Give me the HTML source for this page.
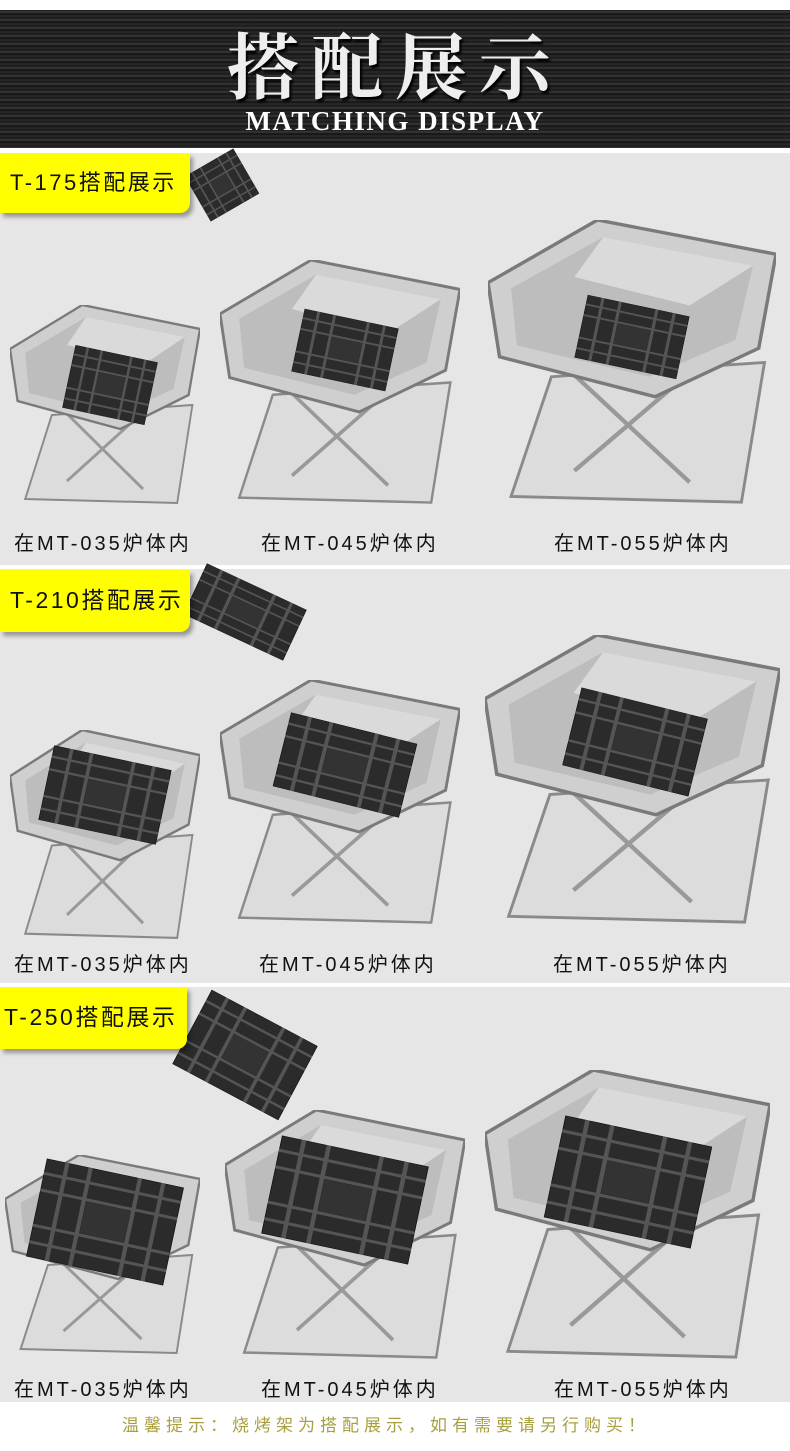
<!DOCTYPE html>
<html><head><meta charset="utf-8"><style>
*{margin:0;padding:0}
body{width:790px;height:1451px;position:relative;background:#fff;overflow:hidden;font-family:"Liberation Sans","Noto Sans CJK SC",sans-serif}
.abs{position:absolute}
.hdr{left:0;top:10px;width:790px;height:138px;background:repeating-linear-gradient(180deg,#1a1a1a 0,#3a3a3a 2px,#111 4px,#2c2c2c 6px,#181818 8px)}
.sec{left:0;width:790px;background:#e6e6e6}
.lab{left:0;background:#ffff00;border-radius:0 0 10px 0;box-shadow:3px 4px 4px rgba(0,0,0,.35);font-size:22px;color:#111;letter-spacing:2.5px;line-height:60px;padding-left:10px;box-sizing:border-box}
.cap{font-size:20px;color:#111;letter-spacing:3px}
</style></head><body>
<div class="abs hdr"></div>
<div class="abs" style="left:0;top:20px;width:790px;text-align:center;font-family:'Noto Serif CJK SC',serif;font-weight:bold;font-size:72px;color:#eee;letter-spacing:12px;text-shadow:2px 3px 2px #000;line-height:84px">搭配展示</div>
<div class="abs" style="left:0;top:106px;width:790px;text-align:center;font-family:'Liberation Serif',serif;font-size:27px;color:#fff;font-weight:bold;letter-spacing:1.5px">MATCHING DISPLAY</div>

<div class="abs sec" style="top:153px;height:412px"></div>
<div class="abs sec" style="top:569px;height:414px"></div>
<div class="abs sec" style="top:987px;height:415px"></div>

<svg class="abs" style="left:0;top:0" width="790" height="1451">
<defs>
<symbol id="st" viewBox="0 0 100 100" preserveAspectRatio="none">
<polygon points="22,55 96,50 88,99 8,97" fill="#dcdcdc" stroke="#8a8a8a" stroke-width="1"/>
<line x1="20" y1="45" x2="70" y2="92" stroke="#999" stroke-width="1.5"/>
<line x1="80" y1="45" x2="30" y2="88" stroke="#999" stroke-width="1.5"/>
<polygon points="0,22 38,0 100,12 94,45 58,62 4,48" fill="#cfcfcf" stroke="#7a7a7a" stroke-width="1.2"/>
<polygon points="8,24 40,6 92,16 86,42 56,55 10,44" fill="#bdbdbd"/>
<polygon points="40,6 92,16 70,30 30,20" fill="#dadada"/>
</symbol>
<symbol id="gr" viewBox="0 0 100 100" preserveAspectRatio="none">
<rect x="0" y="0" width="100" height="100" fill="#2b2b2b" stroke="#111"/>
<g stroke="#555" stroke-width="3">
<line x1="0" y1="15" x2="100" y2="15"/><line x1="0" y1="32" x2="100" y2="32"/><line x1="0" y1="68" x2="100" y2="68"/><line x1="0" y1="85" x2="100" y2="85"/>
<line x1="15" y1="0" x2="15" y2="100"/><line x1="32" y1="0" x2="32" y2="100"/><line x1="68" y1="0" x2="68" y2="100"/><line x1="85" y1="0" x2="85" y2="100"/>
</g>
<rect x="34" y="34" width="32" height="32" fill="#333"/>
</symbol>
</defs>
<!-- section 1 -->
<g transform="translate(222,185) rotate(-30)"><use href="#gr" x="-28" y="-26" width="56" height="52"/></g>
<use href="#st" x="10" y="305" width="190" height="200"/>
<use href="#st" x="220" y="260" width="240" height="245"/>
<use href="#st" x="488" y="220" width="288" height="285"/>
<g transform="translate(110,385) rotate(12)"><use href="#gr" x="-42" y="-32" width="84" height="64"/></g>
<g transform="translate(345,350) rotate(12)"><use href="#gr" x="-48" y="-32" width="96" height="64"/></g>
<g transform="translate(632,337) rotate(12)"><use href="#gr" x="-52" y="-32" width="104" height="64"/></g>
<!-- section 2 -->
<g transform="translate(245,612) rotate(25)"><use href="#gr" x="-55" y="-28" width="110" height="56"/></g>
<use href="#st" x="10" y="730" width="190" height="210"/>
<use href="#st" x="220" y="680" width="240" height="245"/>
<use href="#st" x="485" y="635" width="295" height="290"/>
<g transform="translate(105,795) rotate(12)"><use href="#gr" x="-60" y="-38" width="120" height="76"/></g>
<g transform="translate(345,765) rotate(14)"><use href="#gr" x="-65" y="-38" width="130" height="76"/></g>
<g transform="translate(635,742) rotate(14)"><use href="#gr" x="-65" y="-40" width="130" height="80"/></g>
<!-- section 3 -->
<g transform="translate(245,1055) rotate(28)"><use href="#gr" x="-60" y="-42" width="120" height="84"/></g>
<use href="#st" x="5" y="1155" width="195" height="200"/>
<use href="#st" x="225" y="1110" width="240" height="250"/>
<use href="#st" x="485" y="1070" width="285" height="290"/>
<g transform="translate(105,1222) rotate(12)"><use href="#gr" x="-70" y="-50" width="140" height="100"/></g>
<g transform="translate(345,1200) rotate(12)"><use href="#gr" x="-75" y="-50" width="150" height="100"/></g>
<g transform="translate(628,1182) rotate(12)"><use href="#gr" x="-75" y="-52" width="150" height="104"/></g>
</svg>

<div class="abs lab" style="top:153px;width:190px;height:60px">T-175搭配展示</div>
<div class="abs lab" style="top:570px;width:190px;height:62px;font-size:23px">T-210搭配展示</div>
<div class="abs lab" style="top:987px;width:187px;height:62px;font-size:23px;padding-left:4px">T-250搭配展示</div>

<div class="abs cap" style="left:14px;top:527px">在MT-035炉体内</div>
<div class="abs cap" style="left:261px;top:527px">在MT-045炉体内</div>
<div class="abs cap" style="left:554px;top:527px">在MT-055炉体内</div>
<div class="abs cap" style="left:14px;top:948px">在MT-035炉体内</div>
<div class="abs cap" style="left:259px;top:948px">在MT-045炉体内</div>
<div class="abs cap" style="left:553px;top:948px">在MT-055炉体内</div>
<div class="abs cap" style="left:14px;top:1373px">在MT-035炉体内</div>
<div class="abs cap" style="left:261px;top:1373px">在MT-045炉体内</div>
<div class="abs cap" style="left:554px;top:1373px">在MT-055炉体内</div>

<div class="abs" style="left:122px;top:1411px;font-size:17px;color:#a8a040;letter-spacing:5px">温馨提示：烧烤架为搭配展示，如有需要请另行购买！</div>
</body></html>
